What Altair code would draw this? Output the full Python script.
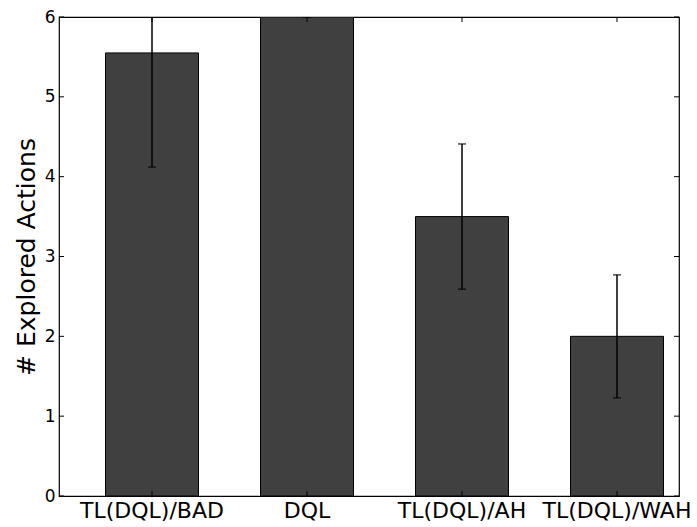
import altair as alt
import pandas as pd

# Mean number of explored actions per method, with standard deviation
categories = ["TL(DQL)/BAD", "DQL", "TL(DQL)/AH", "TL(DQL)/WAH"]
means = [5.55, 6.0, 3.5, 2.0]
errors = [1.43, 0.0, 0.91, 0.77]
y_ticks = [0, 1, 2, 3, 4, 5, 6]

W, H = 620, 479

df = pd.DataFrame({"method": categories, "mean": means, "err": errors})
df["lo"] = df["mean"] - df["err"]
df["hi"] = df["mean"] + df["err"]
ticks_df = pd.DataFrame({"v": y_ticks})

x_scale = alt.Scale(paddingInner=0.4, paddingOuter=0.2, align=0.75)
y_scale = alt.Scale(domain=[0, 6], nice=False)

x_enc = alt.X(
    "method:N",
    sort=categories,
    scale=x_scale,
    title=None,
    axis=alt.Axis(
        labelAngle=0, ticks=False, domain=False, labelPadding=4,
        labelFontSize=22, labelFont="DejaVu Sans", labelColor="black",
    ),
)

bars = alt.Chart(df).mark_bar(
    color="#404040", stroke="black", strokeWidth=1, clip=True
).encode(
    x=x_enc,
    y=alt.Y(
        "mean:Q",
        scale=y_scale,
        title="# Explored Actions",
        axis=alt.Axis(
            values=y_ticks, format="d", ticks=False, domain=False, grid=False,
            labelPadding=4, labelFontSize=17, labelFont="DejaVu Sans",
            labelColor="black", titleFontSize=25, titleFont="DejaVu Sans",
            titleFontWeight="normal", titleColor="black", titlePadding=5,
        ),
    ),
)

err_rule = alt.Chart(df).mark_rule(color="black", strokeWidth=1.5, clip=True).encode(
    x=alt.X("method:N", sort=categories, scale=x_scale),
    y=alt.Y("lo:Q", scale=y_scale),
    y2="hi:Q",
)

cap_lo = alt.Chart(df).mark_tick(color="black", size=8, thickness=1.5, clip=True).encode(
    x=alt.X("method:N", sort=categories, scale=x_scale),
    y=alt.Y("lo:Q", scale=y_scale),
)
cap_hi = alt.Chart(df).mark_tick(color="black", size=8, thickness=1.5, clip=True).encode(
    x=alt.X("method:N", sort=categories, scale=x_scale),
    y=alt.Y("hi:Q", scale=y_scale),
)

# inward-pointing ticks on all four sides of the frame
tick_len = 5
y_tick_left = alt.Chart(ticks_df).mark_rule(color="black", strokeWidth=1).encode(
    y=alt.Y("v:Q", scale=y_scale), x=alt.value(0), x2=alt.value(tick_len)
)
y_tick_right = alt.Chart(ticks_df).mark_rule(color="black", strokeWidth=1).encode(
    y=alt.Y("v:Q", scale=y_scale), x=alt.value(W), x2=alt.value(W - tick_len)
)
x_tick_bottom = alt.Chart(df).mark_rule(color="black", strokeWidth=1).encode(
    x=alt.X("method:N", sort=categories, scale=x_scale),
    y=alt.value(H), y2=alt.value(H - tick_len),
)
x_tick_top = alt.Chart(df).mark_rule(color="black", strokeWidth=1).encode(
    x=alt.X("method:N", sort=categories, scale=x_scale),
    y=alt.value(0), y2=alt.value(tick_len),
)

chart = alt.layer(
    bars, err_rule, cap_lo, cap_hi,
    y_tick_left, y_tick_right, x_tick_bottom, x_tick_top,
).properties(
    width=W,
    height=H,
    autosize=alt.AutoSizeParams(type="none"),
    padding={"left": 59, "top": 17, "right": 18, "bottom": 31},
    background="white",
).configure_view(
    stroke="black", strokeWidth=1.2
)

chart.save("out.html", embed_options={"renderer": "svg", "actions": False})
